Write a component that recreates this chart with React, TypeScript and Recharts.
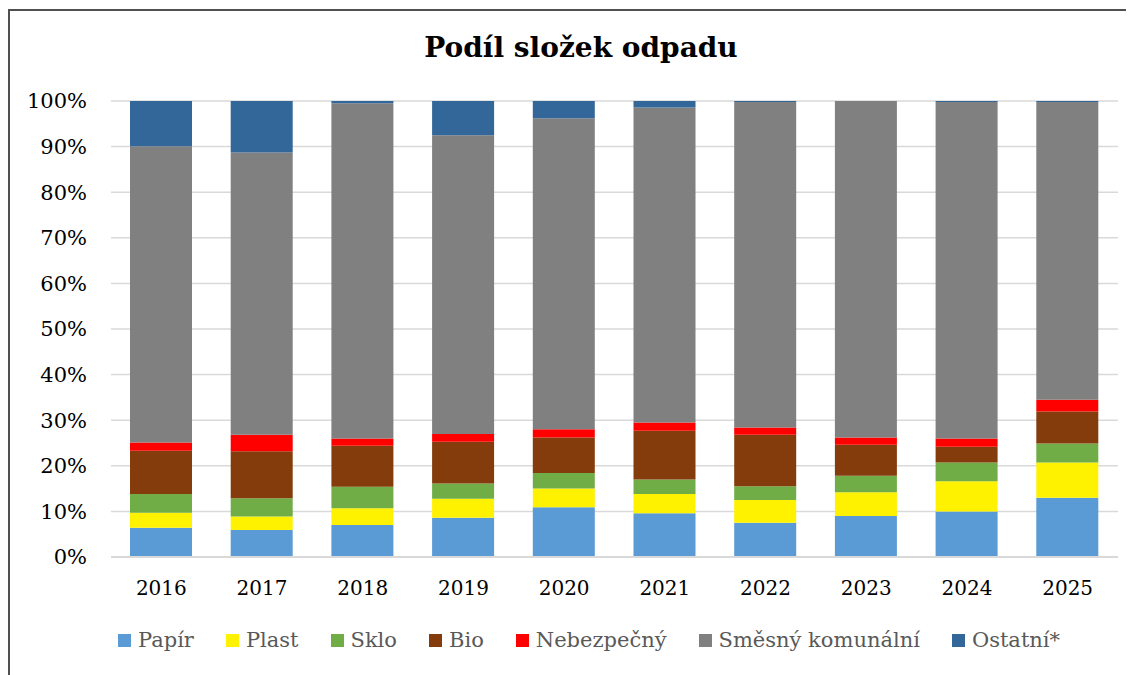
import React from 'react';
import { BarChart, Bar, XAxis, YAxis, CartesianGrid, Legend } from 'recharts';

// years on the x axis
const years = ['2016', '2017', '2018', '2019', '2020', '2021', '2022', '2023', '2024', '2025'];

// share of each component per year (%)
const papir = [6.4, 5.9, 7.0, 8.6, 10.9, 9.6, 7.5, 9.0, 10.0, 13.0];
const plast = [3.3, 3.0, 3.7, 4.2, 4.1, 4.2, 5.0, 5.2, 6.6, 7.7];
const sklo = [4.1, 4.0, 4.7, 3.3, 3.4, 3.2, 3.0, 3.6, 4.1, 4.2];
const bio = [9.5, 10.3, 9.0, 9.2, 7.8, 10.7, 11.3, 6.8, 3.5, 7.0];
const nebezpecny = [1.8, 3.6, 1.6, 1.7, 1.8, 1.8, 1.6, 1.6, 1.8, 2.6];
const smesny = [65.0, 61.9, 73.5, 65.5, 68.2, 69.1, 71.4, 73.8, 73.8, 65.3];
const ostatni = [9.9, 11.3, 0.5, 7.5, 3.8, 1.4, 0.2, 0.0, 0.2, 0.2];

const yTicks = [0, 0.1, 0.2, 0.3, 0.4, 0.5, 0.6, 0.7, 0.8, 0.9, 1];

const SERIES = [
  { key: 'papir', name: 'Papír', color: '#5B9BD5', values: papir },
  { key: 'plast', name: 'Plast', color: '#FFF200', values: plast },
  { key: 'sklo', name: 'Sklo', color: '#70AD47', values: sklo },
  { key: 'bio', name: 'Bio', color: '#843C0C', values: bio },
  { key: 'nebezpecny', name: 'Nebezpečný', color: '#FF0000', values: nebezpecny },
  { key: 'smesny', name: 'Směsný komunální', color: '#808080', values: smesny },
  { key: 'ostatni', name: 'Ostatní*', color: '#336699', values: ostatni },
];

const data = years.map((year, i) => {
  const row: Record<string, string | number> = { year };
  SERIES.forEach(s => {
    row[s.key] = s.values[i];
  });
  return row;
});

const FONT = '"DejaVu Serif", Georgia, serif';

const LegendContent = () => (
  <div style={{ display: 'flex', alignItems: 'center', fontFamily: FONT, fontSize: 21, lineHeight: '20px', color: '#595959' }}>
    {SERIES.map(s => (
      <div key={s.key} style={{ display: 'flex', alignItems: 'center', marginRight: 32 }}>
        <div style={{ width: 13, height: 13, backgroundColor: s.color, marginRight: 7 }} />
        <span>{s.name}</span>
      </div>
    ))}
  </div>
);

export default function App() {
  return (
    <div style={{ position: 'relative', width: 1126, height: 667 }}>
      {/* frame: only the top and left edges show */}
      <div style={{ position: 'absolute', left: 0, top: 1, width: 1126, height: 2, background: '#505050' }} />
      <div style={{ position: 'absolute', left: 0, top: 1, width: 2, height: 666, background: '#505050' }} />
      <div
        style={{
          position: 'absolute',
          top: 26,
          left: 0,
          width: 1146,
          textAlign: 'center',
          fontFamily: FONT,
          fontWeight: 'bold',
          fontSize: 28,
          lineHeight: 1,
          color: '#000',
        }}
      >
        Podíl složek odpadu
      </div>
      <BarChart
        width={1126}
        height={667}
        data={data}
        stackOffset="expand"
        margin={{ top: 93, right: 16, bottom: 88, left: 0 }}
        barSize={62}
      >
        <CartesianGrid vertical={false} stroke="#D9D9D9" strokeWidth={1.5} />
        <XAxis
          dataKey="year"
          tickLine={false}
          axisLine={{ stroke: '#D9D9D9', strokeWidth: 2 }}
          tickMargin={18}
          tick={{ fill: '#000', fontSize: 20, fontFamily: FONT }}
        />
        <YAxis
          width={103}
          domain={[0, 1]}
          ticks={yTicks}
          tickFormatter={(v: number) => `${Math.round(v * 100)}%`}
          tickLine={false}
          axisLine={false}
          tickMargin={18}
          tick={{ fill: '#000', fontSize: 21, fontFamily: FONT }}
        />
        <Legend
          layout="horizontal"
          verticalAlign="middle"
          align="center"
          content={() => <LegendContent />}
          wrapperStyle={{ position: 'absolute', top: 622, left: 110, width: 'auto' }}
        />
        {SERIES.map(s => (
          <Bar key={s.key} dataKey={s.key} name={s.name} stackId="a" fill={s.color} isAnimationActive={false} />
        ))}
      </BarChart>
    </div>
  );
}
